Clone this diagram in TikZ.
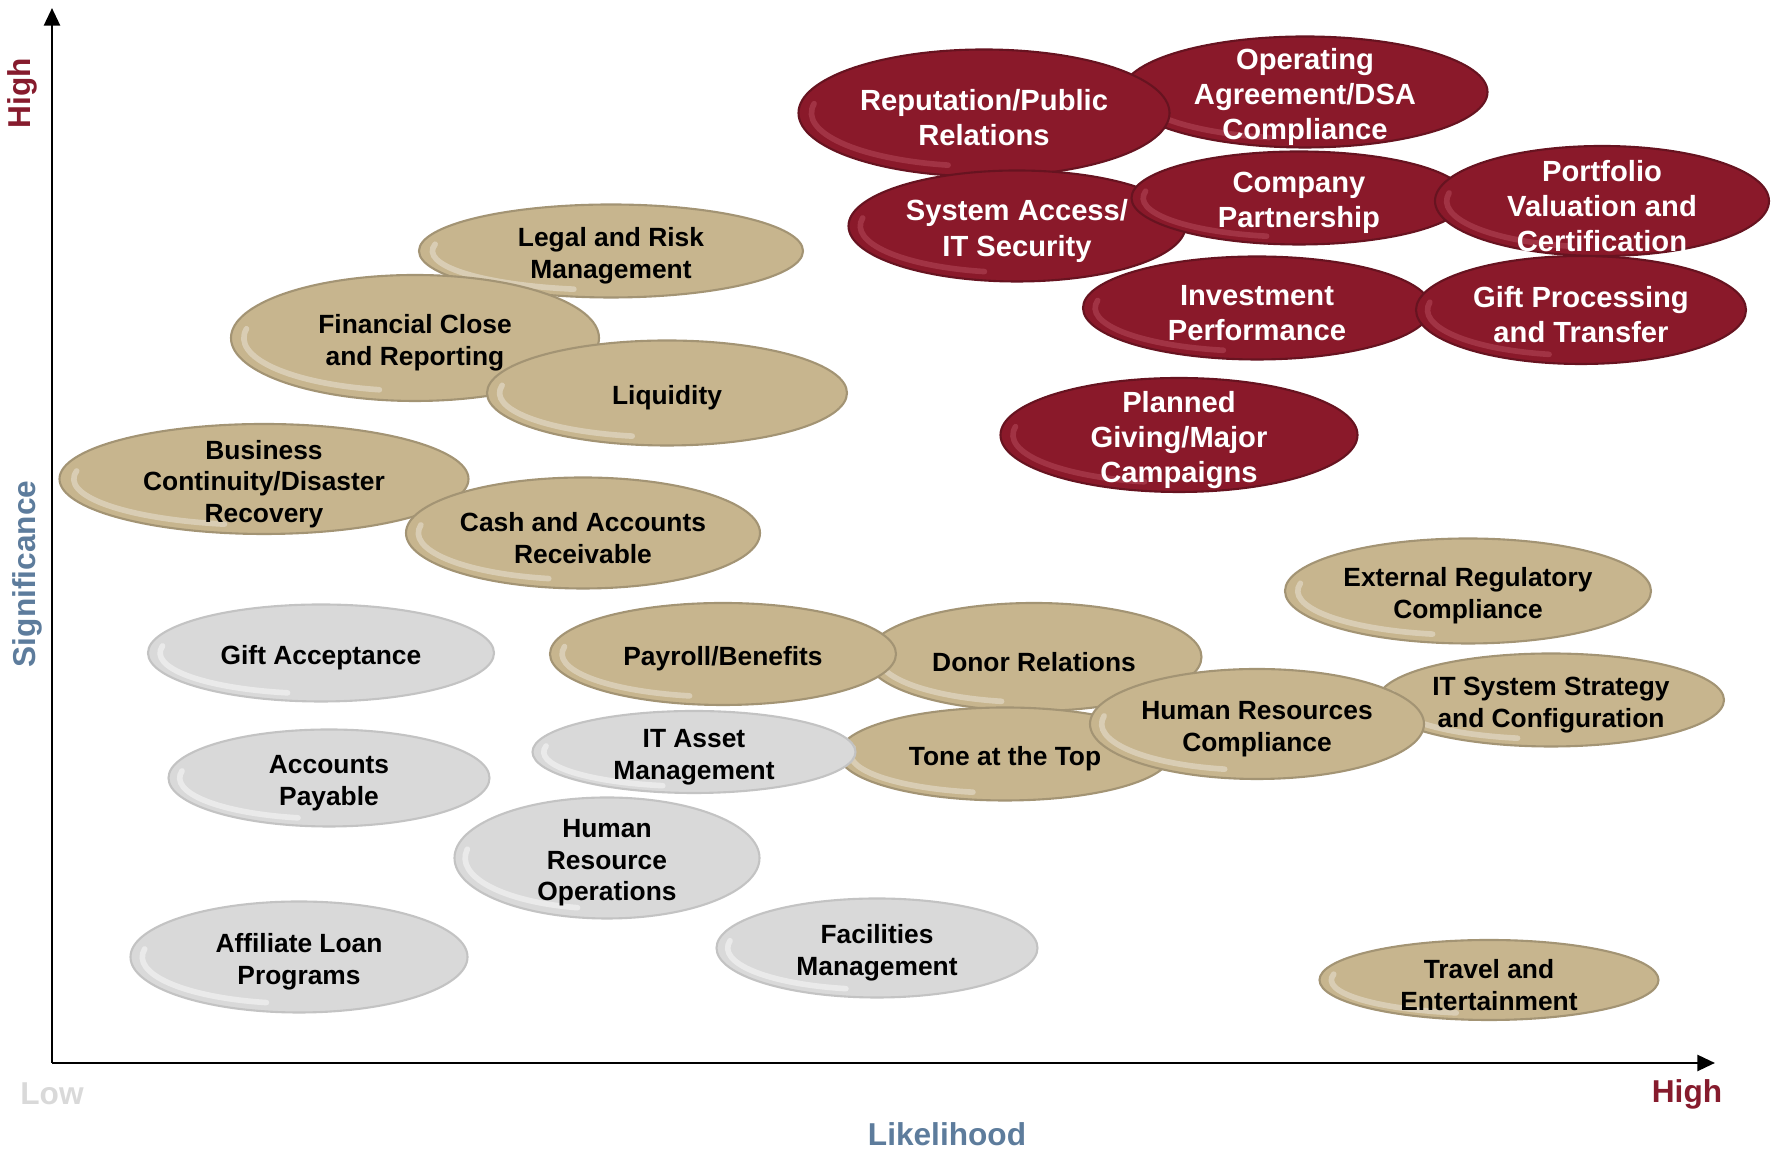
\documentclass[tikz,border=0pt]{standalone}
\usepackage{fontspec}
\setmainfont{Liberation Sans}
\usepackage{tikz}
\usetikzlibrary{arrows.meta,shapes.geometric,calc,positioning}

\definecolor{riskred}{RGB}{138,25,42}
\definecolor{riskredhi}{RGB}{190,84,100}
\definecolor{risktan}{RGB}{199,181,142}
\definecolor{riskgrey}{RGB}{217,217,217}
\definecolor{axisred}{RGB}{134,27,45}
\definecolor{axisblue}{RGB}{93,124,156}

% one oval: kind, name, x, y, width, height, text
\newcommand\riskoval[7]{%
  \node[#1oval, minimum width=#5cm, minimum height=#6cm] (#2) at (#3,#4) {};
  \node[#1text] (#2-txt) at ([yshift=-0.5mm]#2.center) {#7};
}

\tikzset{
    % Define standard arrow tip
    >={Triangle[length=5pt,width=4.5pt]},
    axis/.style={->, line width=0.8pt},
    axislabel/.style={font=\fontsize{9}{10}\selectfont\bfseries},
    % glossy rim along the lower left of each oval
    gloss/.style={path picture={
      \draw[#1, line width=1.6pt, line cap=round, opacity=.45]
        let \p0=(path picture bounding box.center),
            \p1=(path picture bounding box.east),
            \p2=(path picture bounding box.north)
        in ($(\p0)+({0.93*(\x1-\x0)*cos(170)},{0.84*(\y2-\y0)*sin(170)})$)
           arc[start angle=170, end angle=258,
               x radius=0.93*(\x1-\x0), y radius=0.84*(\y2-\y0)];
    }},
    oval/.style={ellipse, inner sep=0pt, outer sep=0pt, line width=0.6pt},
    redoval/.style={oval, fill=riskred, draw=riskred!75!black, gloss=riskredhi},
    tanoval/.style={oval, fill=risktan, draw=risktan!82!black, gloss=white!75!risktan},
    greyoval/.style={oval, fill=riskgrey, draw=riskgrey!90!black, gloss=white},
    redtext/.style={align=center, text=white, font=\fontsize{8.3}{10}\selectfont\bfseries},
    tantext/.style={align=center, font=\fontsize{7.5}{9}\selectfont\bfseries},
    greytext/.style={tantext},
}

\begin{document}
\begin{tikzpicture}
  \useasboundingbox (0,0) rectangle (17.83,11.49);

  % axes
  \coordinate (origin) at (0.52,0.86);
  \coordinate (ytop) at (0.52,11.41);
  \coordinate (xend) at (17.15,0.86);
  \draw[axis] (origin) -- (ytop);
  \draw[axis] (origin) -- (xend);

  \node[axislabel, text=axisred, rotate=90] (yhigh) at (0.22,10.56) {High};
  \node[axislabel, text=axisblue, rotate=90] (ylabel) at (0.27,5.75) {Significance};
  \node[axislabel, text=riskgrey] (xlow) at (0.52,0.55) {Low};
  \node[axislabel, text=axisred] (xhigh) at (16.87,0.55) {High};
  \node[axislabel, text=axisblue] (xlabel) at (9.47,0.15) {Likelihood};

  % high significance, high likelihood
  \riskoval{red}{operating}{13.05}{10.57}{3.65}{1.11}{Operating\\Agreement/DSA\\Compliance}
  \riskoval{red}{reputation}{9.84}{10.36}{3.71}{1.27}{Reputation/Public\\Relations}
  \riskoval{red}{sysaccess}{10.17}{9.23}{3.37}{1.11}{System Access/\\IT Security}
  \riskoval{red}{company}{12.99}{9.51}{3.35}{0.93}{Company\\Partnership}
  \riskoval{red}{investment}{12.57}{8.41}{3.48}{1.03}{Investment\\Performance}
  \riskoval{red}{giftproc}{15.81}{8.39}{3.30}{1.08}{Gift Processing\\and Transfer}
  \riskoval{red}{portfolio}{16.02}{9.48}{3.34}{1.10}{Portfolio\\Valuation and\\Certification}
  \riskoval{red}{planned}{11.79}{7.14}{3.57}{1.14}{Planned\\Giving/Major\\Campaigns}

  % medium
  \riskoval{tan}{legal}{6.11}{8.98}{3.84}{0.93}{Legal and Risk\\Management}
  \riskoval{tan}{finclose}{4.15}{8.11}{3.68}{1.26}{Financial Close\\and Reporting}
  \riskoval{tan}{liquidity}{6.67}{7.56}{3.60}{1.05}{Liquidity}
  \riskoval{tan}{business}{2.64}{6.70}{4.09}{1.10}{Business\\Continuity/Disaster\\Recovery}
  \riskoval{tan}{cash}{5.83}{6.16}{3.54}{1.11}{Cash and Accounts\\Receivable}
  \riskoval{tan}{donor}{10.34}{4.92}{3.35}{1.08}{Donor Relations}
  \riskoval{tan}{payroll}{7.23}{4.95}{3.46}{1.02}{Payroll/Benefits}
  \riskoval{tan}{tone}{10.05}{3.95}{3.32}{0.93}{Tone at the Top}
  \riskoval{tan}{itsystem}{15.51}{4.49}{3.46}{0.93}{IT System Strategy\\and Configuration}
  \riskoval{tan}{hrcompl}{12.57}{4.25}{3.34}{1.10}{Human Resources\\Compliance}
  \riskoval{tan}{external}{14.68}{5.58}{3.66}{1.05}{External Regulatory\\Compliance}
  \riskoval{tan}{travel}{14.89}{1.69}{3.39}{0.80}{Travel and\\Entertainment}

  % low
  \riskoval{grey}{giftaccept}{3.21}{4.96}{3.46}{0.97}{Gift Acceptance}
  \riskoval{grey}{payable}{3.29}{3.71}{3.21}{0.97}{Accounts\\Payable}
  \riskoval{grey}{itasset}{6.94}{3.97}{3.23}{0.82}{IT Asset\\Management}
  \riskoval{grey}{hrops}{6.07}{2.91}{3.05}{1.21}{Human\\Resource\\Operations}
  \riskoval{grey}{affiliate}{2.99}{1.92}{3.37}{1.11}{Affiliate Loan\\Programs}
  \riskoval{grey}{facilities}{8.77}{2.01}{3.21}{0.99}{Facilities\\Management}
\end{tikzpicture}
\end{document}
